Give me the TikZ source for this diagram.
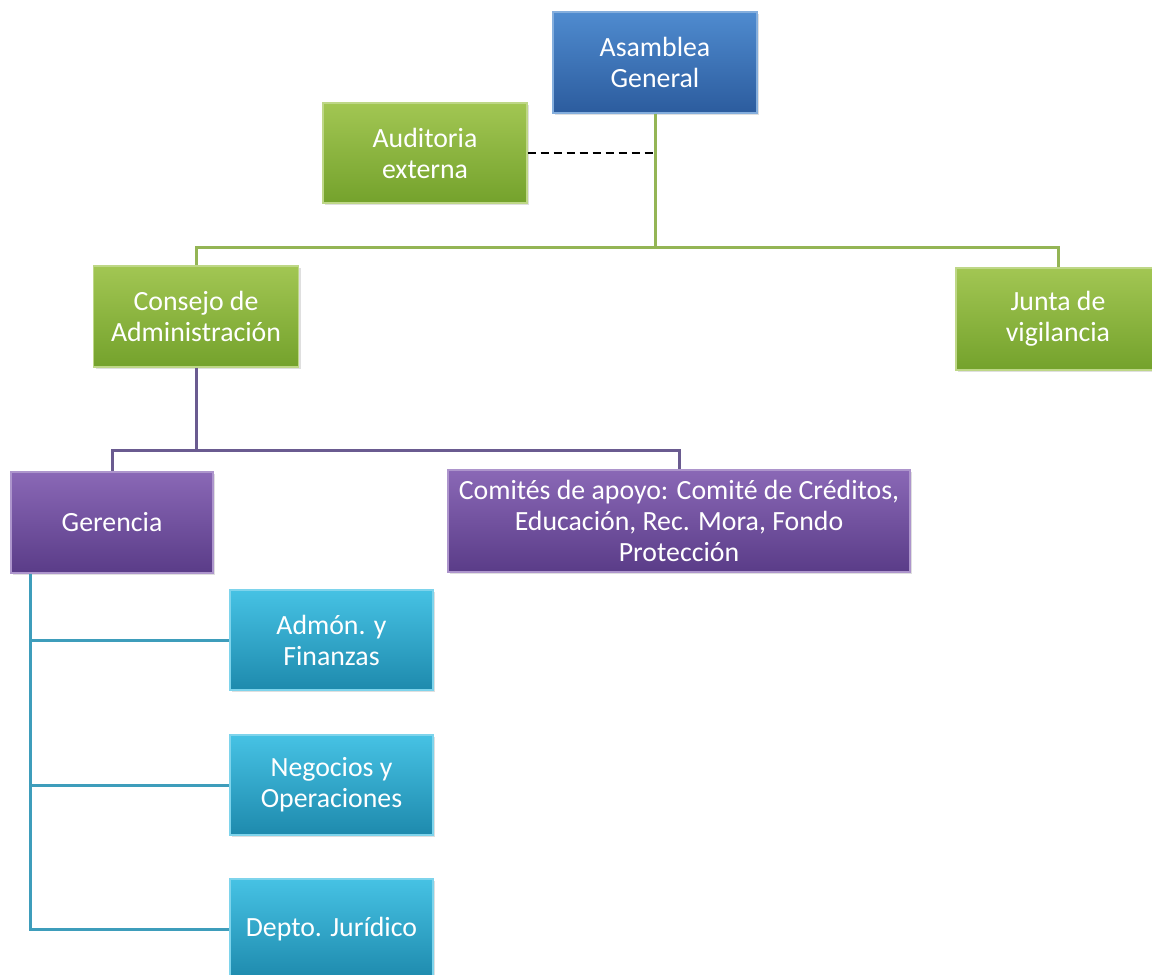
\documentclass[tikz,border=0pt]{standalone}
\usepackage{fontspec}
\setmainfont{Carlito}
\usetikzlibrary{shadows}
\definecolor{bluetop}{HTML}{4F8BCF}
\definecolor{bluebot}{HTML}{2C5C9E}
\definecolor{greentop}{HTML}{A2C653}
\definecolor{greenbot}{HTML}{74A22C}
\definecolor{purptop}{HTML}{8A68B6}
\definecolor{purpbot}{HTML}{5A3C88}
\definecolor{tealtop}{HTML}{46C2E4}
\definecolor{tealbot}{HTML}{1E8AAD}
\definecolor{gline}{HTML}{94B555}
\definecolor{pline}{HTML}{6A5B90}
\definecolor{tline}{HTML}{3E9DBB}
\tikzset{
  orgbox/.style={rectangle, align=center, text=white, inner sep=2pt,
    font=\fontsize{13.9}{15.5}\selectfont,
    drop shadow={opacity=0.25, shadow xshift=1.2pt, shadow yshift=-1.2pt}},
  bluebox/.style={orgbox, top color=bluetop, bottom color=bluebot, draw=bluetop!70!white, line width=0.6pt},
  greenbox/.style={orgbox, top color=greentop, bottom color=greenbot, draw=greentop!70!white, line width=0.6pt},
  purpbox/.style={orgbox, top color=purptop, bottom color=purpbot, draw=purptop!70!white, line width=0.6pt},
  tealbox/.style={orgbox, top color=tealtop, bottom color=tealbot, draw=tealtop!70!white, line width=0.6pt},
  gconn/.style={draw=gline, line width=1.5pt},
  pconn/.style={draw=pline, line width=1.5pt},
  tconn/.style={draw=tline, line width=1.5pt},
  dconn/.style={draw=black, line width=1.3pt, dash pattern=on 4pt off 2.5pt},
}
\begin{document}
\begin{tikzpicture}[x=0.5pt,y=-0.5pt]
\clip (0,0) rectangle (1152,975);
\fill[white] (0,0) rectangle (1152,975);
% nodes
\node[bluebox, minimum width=102pt, minimum height=50.5pt] (asam) at (655,62.5) {Asamblea\\General};
\node[greenbox, minimum width=102pt, minimum height=50pt] (aud) at (425,153) {Auditoria\\externa};
\node[greenbox, minimum width=102.5pt, minimum height=50.5pt] (cons) at (196,316.5) {Consejo de\\Administración};
\node[greenbox, minimum width=102pt, minimum height=51pt] (junta) at (1058,319) {Junta de\\vigilancia};
\node[purpbox, minimum width=101pt, minimum height=50.5pt] (ger) at (112,522.5) {Gerencia};
\node[purpbox, minimum width=231pt, minimum height=51pt] (com) at (679,521) {Comités de apoyo: Comité de Créditos,\\Educación, Rec. Mora, Fondo\\Protección};
\node[tealbox, minimum width=101.5pt, minimum height=50pt] (adm) at (331.5,640) {Admón. y\\Finanzas};
\node[tealbox, minimum width=101.5pt, minimum height=50pt] (neg) at (331.5,785) {Negocios y\\Operaciones};
\node[tealbox, minimum width=101.5pt, minimum height=50pt] (dep) at (331.5,929) {Depto. Jurídico};
% bus coordinates
\coordinate (gbus) at (655,247);
\coordinate (pbus) at (196,450);
\coordinate (tx) at (30,573);
% green connectors
\draw[gconn] (asam.south) -- (gbus);
\draw[gconn] (gbus) -| (cons.north);
\draw[gconn] (gbus) -| (junta.north);
\draw[dconn] (aud.east) -- (aud.east -| asam.south);
% purple connectors
\draw[pconn] (cons.south) -- (pbus);
\draw[pconn] (pbus) -| (ger.north);
\draw[pconn] (pbus) -| (com.north);
% teal connectors
\draw[tconn] (tx |- ger.south) -- (tx |- dep.west) -- (dep.west);
\draw[tconn] (tx |- adm.west) -- (adm.west);
\draw[tconn] (tx |- neg.west) -- (neg.west);
\end{tikzpicture}
\end{document}
